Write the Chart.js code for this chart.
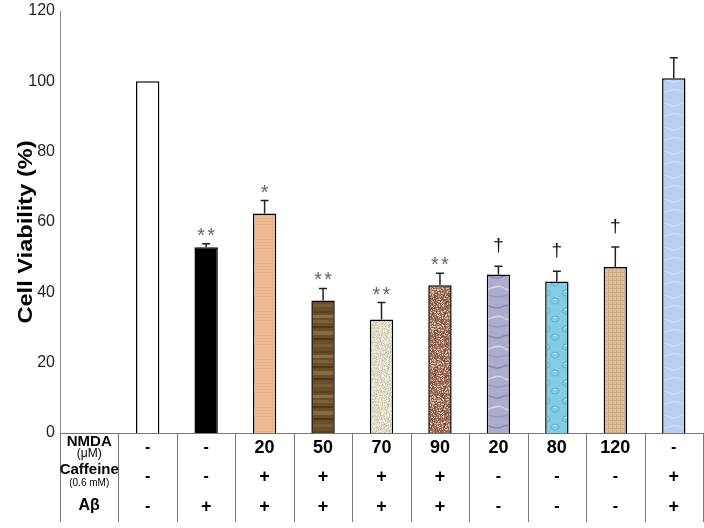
<!DOCTYPE html>
<html><head><meta charset="utf-8">
<script src="https://cdn.jsdelivr.net/npm/chart.js@4"></script>
<style>html,body{margin:0;padding:0;background:#fff}#wrap{width:704px;height:528px;position:relative}</style>
</head><body><div id="wrap"><canvas id="c" width="704" height="528"></canvas></div>
<script>
// ---- data ----
const categories = ['', 'Control', 'Aβ', 'Aβ+Caf+NMDA20', 'Aβ+Caf+NMDA50', 'Aβ+Caf+NMDA70', 'Aβ+Caf+NMDA90', 'NMDA20', 'NMDA80', 'NMDA120', 'Aβ+Caf'];
const viability = [null, 100, 52.8, 62.4, 37.7, 32.3, 42.0, 45.1, 43.1, 47.2, 100.9];
const errorUp = [null, 0, 1.0, 3.7, 3.4, 4.8, 3.4, 2.3, 2.9, 5.7, 5.8];
const marks = ['', '', '**', '*', '**', '**', '**', '†', '†', '†', ''];
const yTicks = [0, 20, 40, 60, 80, 100, 120];
const rowHeaders = [['NMDA', '(μM)'], ['Caffeine', '(0.6 mM)'], ['Aβ', '']];
const nmdaRow = ['', '-', '-', '20', '50', '70', '90', '20', '80', '120', '-'];
const caffeineRow = ['', '-', '-', '+', '+', '+', '+', '-', '-', '-', '+'];
const abetaRow = ['', '-', '+', '+', '+', '+', '+', '-', '-', '-', '+'];

const FONT = '"Liberation Sans", Arial, sans-serif';
const NARROW = '"Liberation Sans Narrow", "Liberation Sans", Arial, sans-serif';

// ---- textures (styling only) ----
function tex(w, h, draw) {
  const c = document.createElement('canvas'); c.width = w; c.height = h;
  const g = c.getContext('2d'); draw(g, w, h);
  return document.getElementById('c').getContext('2d').createPattern(c, 'repeat');
}
function hash(i, j) {
  let h = (i * 374761393 + j * 668265263) | 0;
  h = Math.imul(h ^ (h >>> 13), 1274126177);
  return ((h ^ (h >>> 16)) >>> 0);
}
function speck(g, w, h, base, cols, mod) {
  g.fillStyle = base; g.fillRect(0, 0, w, h);
  for (let j = 0; j < h; j++) for (let i = 0; i < w; i++) {
    const k = hash(i, j) % mod;
    if (k < cols.length) { g.fillStyle = cols[k]; g.fillRect(i, j, 1, 1); }
  }
}
const pTan = tex(8, 6, (g, w, h) => { g.fillStyle = '#EEBB92'; g.fillRect(0, 0, w, h); g.fillStyle = '#E6B088'; g.fillRect(0, 2, w, 1); g.fillRect(0, 5, w, 1); });
const pWood = tex(8, 40, (g, w, h) => {
  g.fillStyle = '#6A4E2B'; g.fillRect(0, 0, w, h);
  const s = [[0, 3, '#7E6036'], [6, 2, '#54391C'], [11, 4, '#876A3C'], [18, 2, '#4F3519'], [24, 3, '#7A5C33'], [31, 2, '#5A4020'], [35, 3, '#8A6D40']];
  s.forEach(([y, hh, c]) => { g.fillStyle = c; g.fillRect(0, y, w, hh); });
});
const pCream = tex(31, 37, (g, w, h) => speck(g, w, h, '#E4E1CE', ['#C8C4AA', '#F6F4E8', '#D3CFB8'], 6));
const pBrown = tex(31, 37, (g, w, h) => speck(g, w, h, '#A57A62', ['#7A4F3C', '#D9BBA4', '#8E6450'], 5));
const pMarble = tex(24, 30, (g, w, h) => {
  g.fillStyle = '#ACADCC'; g.fillRect(0, 0, w, h);
  g.strokeStyle = '#8889B0'; g.lineWidth = 1.5;
  g.beginPath(); g.moveTo(0, 6); g.bezierCurveTo(8, 2, 14, 12, 24, 6); g.stroke();
  g.strokeStyle = '#D2D2E8';
  g.beginPath(); g.moveTo(0, 18); g.bezierCurveTo(6, 24, 16, 12, 24, 18); g.stroke();
  g.strokeStyle = '#9899BE';
  g.beginPath(); g.moveTo(0, 26); g.bezierCurveTo(10, 22, 14, 30, 24, 26); g.stroke();
});
const pDrops = tex(20, 18, (g, w, h) => {
  g.fillStyle = '#84CCE6'; g.fillRect(0, 0, w, h);
  g.strokeStyle = '#5FB3D4'; g.lineWidth = 1;
  g.beginPath(); g.ellipse(6, 5, 4, 3, 0, 0, Math.PI * 2); g.stroke();
  g.beginPath(); g.ellipse(15, 13, 4, 3, 0, 0, Math.PI * 2); g.stroke();
  g.fillStyle = '#C0E9F6'; g.fillRect(5, 3, 2, 1); g.fillRect(14, 11, 2, 1);
});
const pWeave = tex(4, 4, (g, w, h) => { g.fillStyle = '#DEBD9E'; g.fillRect(0, 0, w, h); g.fillStyle = '#CDA986'; g.fillRect(0, 0, w, 1); g.fillRect(0, 0, 1, h); });
const pBlue = tex(20, 24, (g, w, h) => {
  g.fillStyle = '#BACEF2'; g.fillRect(0, 0, w, h);
  g.strokeStyle = '#D6E2F8'; g.lineWidth = 1;
  g.beginPath(); g.moveTo(0, 8); g.bezierCurveTo(6, 4, 12, 14, 20, 8); g.stroke();
  g.beginPath(); g.moveTo(0, 19); g.bezierCurveTo(7, 22, 13, 15, 20, 19); g.stroke();
});
const barFills = ['#ffffff', '#ffffff', '#000000', pTan, pWood, pCream, pBrown, pMarble, pDrops, pWeave, pBlue];

const extras = {
  id: 'extras',
  afterDatasetsDraw(chart) {
    const ctx = chart.ctx;
    const x = chart.scales.x, y = chart.scales.y;
    ctx.save();
    // error bars
    ctx.strokeStyle = '#222';
    ctx.lineWidth = 1.5;
    viability.forEach((v, i) => {
      if (v == null || !errorUp[i]) return;
      const cx = x.getPixelForValue(i);
      const y0 = y.getPixelForValue(v), y1 = y.getPixelForValue(v + errorUp[i]);
      ctx.beginPath();
      ctx.moveTo(cx, y0); ctx.lineTo(cx, y1);
      ctx.moveTo(cx - 4, y1); ctx.lineTo(cx + 4, y1);
      ctx.stroke();
    });
    // significance marks
    ctx.textAlign = 'center';
    ctx.textBaseline = 'alphabetic';
    marks.forEach((m, i) => {
      if (!m) return;
      const cx = x.getPixelForValue(i);
      const top = y.getPixelForValue(viability[i] + errorUp[i]);
      if (m === '†') {
        ctx.fillStyle = '#111';
        ctx.font = '19px ' + FONT;
        ctx.fillText(m, cx, top - 15);
      } else {
        ctx.fillStyle = '#666';
        ctx.font = '20px ' + FONT;
        const n = m.length;
        for (let k = 0; k < n; k++) {
          ctx.fillText('*', cx + (k - (n - 1) / 2) * 10, top - 2);
        }
      }
    });
    // table
    const left = chart.chartArea.left, right = chart.chartArea.right;
    const topY = chart.chartArea.bottom;
    const bottomY = 522;
    const n = categories.length;
    const w = (right - left) / n;
    ctx.strokeStyle = '#777';
    ctx.lineWidth = 1;
    for (let k = 0; k <= n; k++) {
      const lx = Math.min(Math.round(left + k * w), 703) + 0.5;
      ctx.beginPath(); ctx.moveTo(lx, topY); ctx.lineTo(lx, bottomY); ctx.stroke();
    }
    ctx.beginPath(); ctx.moveTo(left, topY + 0.5); ctx.lineTo(right, topY + 0.5); ctx.stroke();
    // row headers
    const hx = left + w / 2;
    ctx.textBaseline = 'middle';
    ctx.fillStyle = '#000';
    ctx.font = 'bold 15px ' + NARROW;
    ctx.fillText(rowHeaders[0][0], hx, topY + 9);
    ctx.font = '12px ' + NARROW;
    ctx.fillText(rowHeaders[0][1], hx, topY + 21);
    ctx.font = 'bold 15px ' + NARROW;
    ctx.fillText(rowHeaders[1][0], hx, topY + 37);
    ctx.font = '10px ' + NARROW;
    ctx.fillText(rowHeaders[1][1], hx, topY + 50);
    ctx.font = 'bold 16px ' + NARROW;
    ctx.fillText(rowHeaders[2][0], hx, topY + 73);
    const rows = [[nmdaRow, 15], [caffeineRow, 44], [abetaRow, 74]];
    rows.forEach(([row, dy]) => {
      row.forEach((t, i) => {
        if (!t) return;
        const cx = x.getPixelForValue(i);
        ctx.font = (t === '-' ? 'bold 16px ' : 'bold 18px ') + NARROW;
        ctx.fillText(t, cx, topY + dy);
      });
    });
    // y title
    ctx.save();
    ctx.translate(26, 232);
    ctx.rotate(-Math.PI / 2);
    ctx.scale(1.18, 1);
    ctx.font = 'bold 20px ' + FONT;
    ctx.fillStyle = '#000';
    ctx.fillText('Cell Viability (%)', 0, 0);
    ctx.restore();
    ctx.restore();
  }
};

new Chart(document.getElementById('c'), {
  type: 'bar',
  data: {
    labels: categories,
    datasets: [{
      data: viability,
      backgroundColor: barFills,
      borderColor: '#000',
      borderWidth: 1.5,
      barPercentage: 0.4,
      categoryPercentage: 1.0
    }]
  },
  options: {
    responsive: false,
    animation: false,
    devicePixelRatio: 1,
    layout: { padding: { top: 11, right: 1, bottom: 95, left: 0 } },
    plugins: { legend: { display: false }, tooltip: { enabled: false } },
    scales: {
      x: { display: false, offset: true },
      y: {
        min: 0, max: 120,
        afterBuildTicks(s) { s.ticks = yTicks.map(v => ({ value: v })); },
        afterFit(s) { s.width = 60; s.paddingTop = 0; s.paddingBottom = 0; },
        grid: { display: false, drawTicks: false },
        border: { display: true, color: '#888', width: 1 },
        ticks: { color: '#222', padding: 5, font: { family: FONT, size: 16 } }
      }
    }
  },
  plugins: [extras]
});
</script></body></html>
